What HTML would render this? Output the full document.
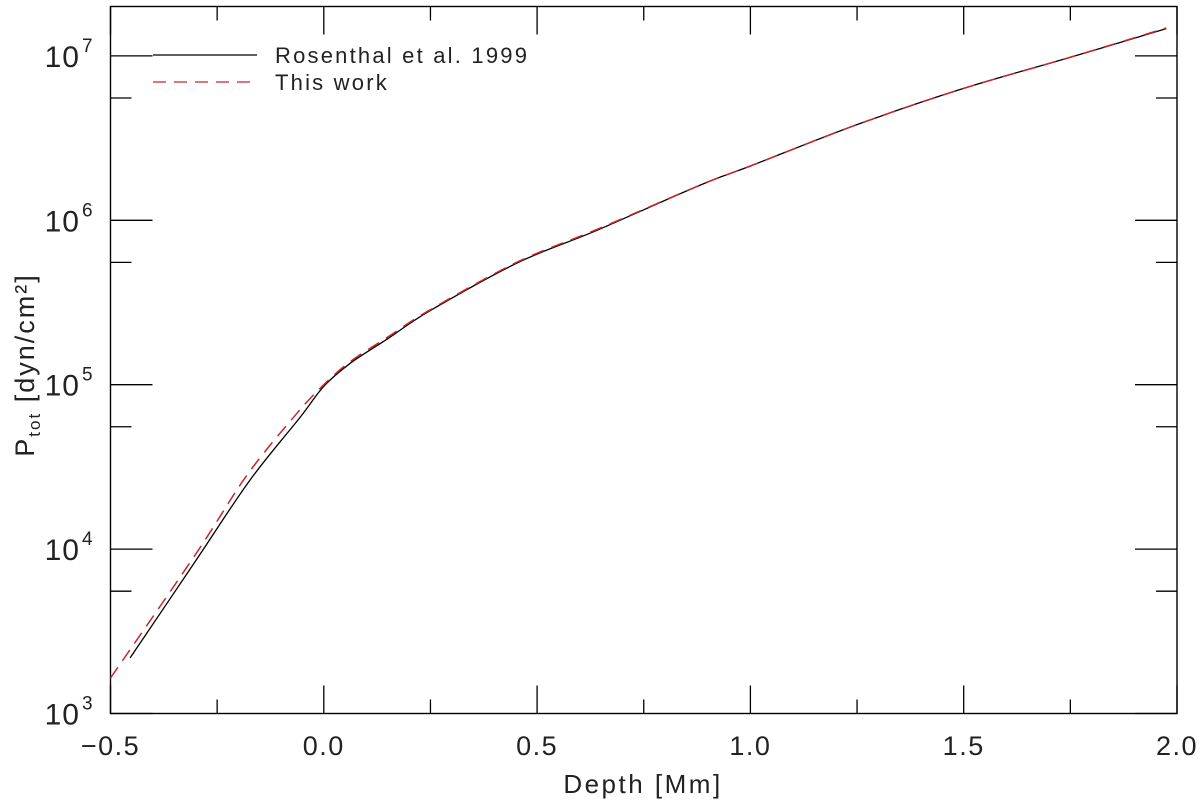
<!DOCTYPE html>
<html><head><meta charset="utf-8"><style>
html,body{margin:0;padding:0;background:#fff;}
svg{display:block;font-family:"Liberation Sans",sans-serif;}
</style></head><body>
<svg id="chart" width="1200" height="802" viewBox="0 0 1200 802">
<g id="axes"></g>
<g id="series"></g>
<g>
<line x1="153" y1="55" x2="257" y2="55" stroke="#000" stroke-width="1.3"/>
<text x="275" y="63" font-size="22" letter-spacing="2.2" fill="#222">Rosenthal et al. 1999</text>
<line x1="153" y1="82" x2="257" y2="82" stroke="#c8252a" stroke-width="1.3" stroke-dasharray="13,8"/>
<text x="275" y="90" font-size="22" letter-spacing="2.2" fill="#222">This work</text>
</g>
<text x="643" y="793" font-size="26" letter-spacing="2.5" text-anchor="middle" fill="#222">Depth [Mm]</text>
<text transform="translate(34,365) rotate(-90)" font-size="27" letter-spacing="2" text-anchor="middle" fill="#222">P<tspan font-size="17" dy="6">tot</tspan><tspan dy="-6"> [dyn/cm²]</tspan></text>
</svg>
<script>
const xTicks = [-0.5, 0.0, 0.5, 1.0, 1.5, 2.0];
const xTickLabels = ["\u22120.5", "0.0", "0.5", "1.0", "1.5", "2.0"];
const yDecades = [3, 4, 5, 6, 7];
const blackX = [-0.454, -0.3, -0.173, -0.056, 0.0, 0.062, 0.15, 0.249, 0.453, 0.641, 0.883, 1.0, 1.248, 1.497, 1.748, 1.975];
const blackLogP = [3.338, 3.93, 4.42, 4.80, 4.99, 5.13, 5.28, 5.45, 5.74, 5.94, 6.215, 6.33, 6.58, 6.80, 6.99, 7.166];
const redX = [-0.5, -0.3, -0.18, -0.065, 0.0, 0.062, 0.15, 0.249, 0.453, 0.641, 0.883, 1.0, 1.248, 1.497, 1.748, 1.975];
const redLogP = [3.216, 3.97, 4.45, 4.82, 5.0, 5.14, 5.29, 5.455, 5.745, 5.945, 6.215, 6.33, 6.58, 6.80, 6.99, 7.17];

const L=110.5, R=1177, T=6.5, B=713.5;
const xMin=-0.5, xMax=2.0, yMin=3, yMax=3+(B-T)/164.4;
function sx(v){return L+(v-xMin)/(xMax-xMin)*(R-L);}
function sy(lv){return B-(lv-yMin)/(yMax-yMin)*(B-T);}
const NS="http://www.w3.org/2000/svg";
function mk(tag,attrs,parent){const e=document.createElementNS(NS,tag);for(const k in attrs)e.setAttribute(k,attrs[k]);parent.appendChild(e);return e;}
const axes=document.getElementById('axes');
const frame=mk('rect',{x:L,y:T,width:R-L,height:B-T,fill:'none',stroke:'#000','stroke-width':1.4},axes);


for(let v=-0.5; v<=2.0001; v+=0.25){
  const major=Math.abs(v*2-Math.round(v*2))<1e-6;
  const len=major?28:14, x=sx(v);
  const t1=mk('line',{x1:x,y1:B,x2:x,y2:B-len,stroke:'#000','stroke-width':1.3},axes);
  
  
  const t2=mk('line',{x1:x,y1:T,x2:x,y2:T+len,stroke:'#000','stroke-width':1.3},axes);
  
  
}
xTicks.forEach((v,i)=>{
  const t=mk('text',{x:sx(v),y:755,'font-size':27,'letter-spacing':1.5,'text-anchor':'middle',fill:'#222'},axes);
  t.textContent=xTickLabels[i];
  
  
});
yDecades.forEach(d=>{
  [[d,42],[d-0.256,21]].forEach(([lv,len])=>{
    if(lv<yMin-1e-6) return;
    const y=sy(lv);
    const a=mk('line',{x1:L,y1:y,x2:L+len,y2:y,stroke:'#000','stroke-width':1.3},axes);
    
    
    const b=mk('line',{x1:R,y1:y,x2:R-len,y2:y,stroke:'#000','stroke-width':1.3},axes);
    
    
  });
  const t=mk('text',{x:80,y:sy(d)+11,'font-size':30,'letter-spacing':1,'text-anchor':'end',fill:'#222'},axes);
  t.textContent='10';
  
  
  const s=mk('text',{x:82,y:sy(d)-4,'font-size':19,fill:'#222'},axes);
  s.textContent=String(d);
  
  
});
const series=document.getElementById('series');
function path(xs,ys){
  const p=xs.map((v,i)=>[sx(v),sy(ys[i])]);
  let d='M'+p[0][0].toFixed(1)+','+p[0][1].toFixed(1);
  for(let i=0;i<p.length-1;i++){
    const p0=p[Math.max(0,i-1)],p1=p[i],p2=p[i+1],p3=p[Math.min(p.length-1,i+2)];
    const c1x=p1[0]+(p2[0]-p0[0])/6,c1y=p1[1]+(p2[1]-p0[1])/6;
    const c2x=p2[0]-(p3[0]-p1[0])/6,c2y=p2[1]-(p3[1]-p1[1])/6;
    d+=' C'+c1x.toFixed(1)+','+c1y.toFixed(1)+' '+c2x.toFixed(1)+','+c2y.toFixed(1)+' '+p2[0].toFixed(1)+','+p2[1].toFixed(1);
  }
  return d;
}
const pb=mk('path',{d:path(blackX,blackLogP),fill:'none',stroke:'#000','stroke-width':1.3,'stroke-linejoin':'round'},series);


const pr=mk('path',{d:path(redX,redLogP),fill:'none',stroke:'#c8252a','stroke-width':1.5,'stroke-dasharray':'13,8'},series);


</script>
</body></html>
